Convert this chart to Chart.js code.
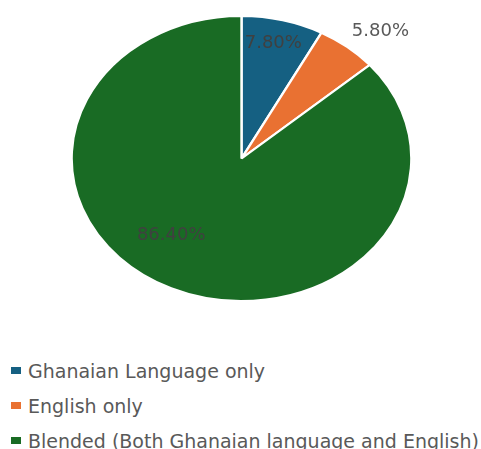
<!DOCTYPE html>
<html>
<head>
<meta charset="utf-8">
<script src="https://cdn.jsdelivr.net/npm/chart.js@4"></script>
<style>
  html, body { margin: 0; padding: 0; background: #fff; }
  #wrap { position: relative; width: 481px; height: 449px; }
  #pieBox { position: absolute; left: 0; top: 0; width: 481px; height: 302px; }
  #legend { position: absolute; left: 11px; top: 353px; margin: 0; padding: 0; list-style: none;
    font-family: "DejaVu Sans", sans-serif; font-size: 19px; color: #595959; white-space: nowrap; }
  #legend li { height: 35px; display: flex; align-items: center; }
  #legend span.box { display: inline-block; width: 10px; height: 7px; margin-right: 7px; }
</style>
</head>
<body>
<div id="wrap">
  <div id="pieBox"><canvas id="pieChart"></canvas></div>
  <ul id="legend"></ul>
</div>
<script>
const categories = [
  'Ghanaian Language only',
  'English only',
  'Blended (Both Ghanaian language and English)'
];
const shares = [7.8, 5.8, 86.4];
const valueLabels = ['7.80%', '5.80%', '86.40%'];
const sliceColors = ['#156082', '#E97132', '#196B24'];

// the reference pie is a stretched ellipse, so widen it around its centre
const stretchX = 1.192;

// label placement per slice: radius fraction and angle nudge (degrees)
const labelPlace = [
  { r: 0.83, turn: -1 },
  { r: 1.21, turn: 4 },
  { r: 0.68, turn: 13 }
];

const stretchPlugin = {
  id: 'stretch',
  beforeDatasetsDraw(chart) {
    const arc = chart.getDatasetMeta(0).data[0];
    const ctx = chart.ctx;
    ctx.save();
    ctx.translate(arc.x, arc.y);
    ctx.scale(stretchX, 1);
    ctx.translate(-arc.x, -arc.y);
  },
  afterDatasetsDraw(chart) {
    chart.ctx.restore();
  }
};

const labelPlugin = {
  id: 'sliceLabels',
  afterDraw(chart) {
    const ctx = chart.ctx;
    const arcs = chart.getDatasetMeta(0).data;
    ctx.save();
    ctx.font = '18px "DejaVu Sans", sans-serif';
    ctx.textAlign = 'center';
    ctx.textBaseline = 'middle';
    arcs.forEach((arc, i) => {
      const p = labelPlace[i];
      const mid = (arc.startAngle + arc.endAngle) / 2 + p.turn * Math.PI / 180;
      const r = arc.outerRadius * p.r;
      const x = arc.x + Math.cos(mid) * r * stretchX;
      const y = arc.y + Math.sin(mid) * r;
      ctx.fillStyle = i === 1 ? '#595959' : '#404040';
      ctx.fillText(valueLabels[i], x, y);
    });
    ctx.restore();
  }
};

const chart = new Chart(document.getElementById('pieChart'), {
  type: 'pie',
  data: {
    labels: categories,
    datasets: [{
      data: shares,
      backgroundColor: sliceColors,
      borderColor: '#ffffff',
      borderWidth: 2
    }]
  },
  options: {
    responsive: true,
    maintainAspectRatio: false,
    animation: false,
    layout: { padding: { top: 15, left: 2 } },
    plugins: {
      legend: { display: false },
      tooltip: { enabled: false }
    }
  },
  plugins: [stretchPlugin, labelPlugin]
});

// legend below the pie, one entry per line
const legendEl = document.getElementById('legend');
categories.forEach((name, i) => {
  const li = document.createElement('li');
  const box = document.createElement('span');
  box.className = 'box';
  box.style.background = sliceColors[i];
  li.appendChild(box);
  li.appendChild(document.createTextNode(name));
  legendEl.appendChild(li);
});
</script>
</body>
</html>
